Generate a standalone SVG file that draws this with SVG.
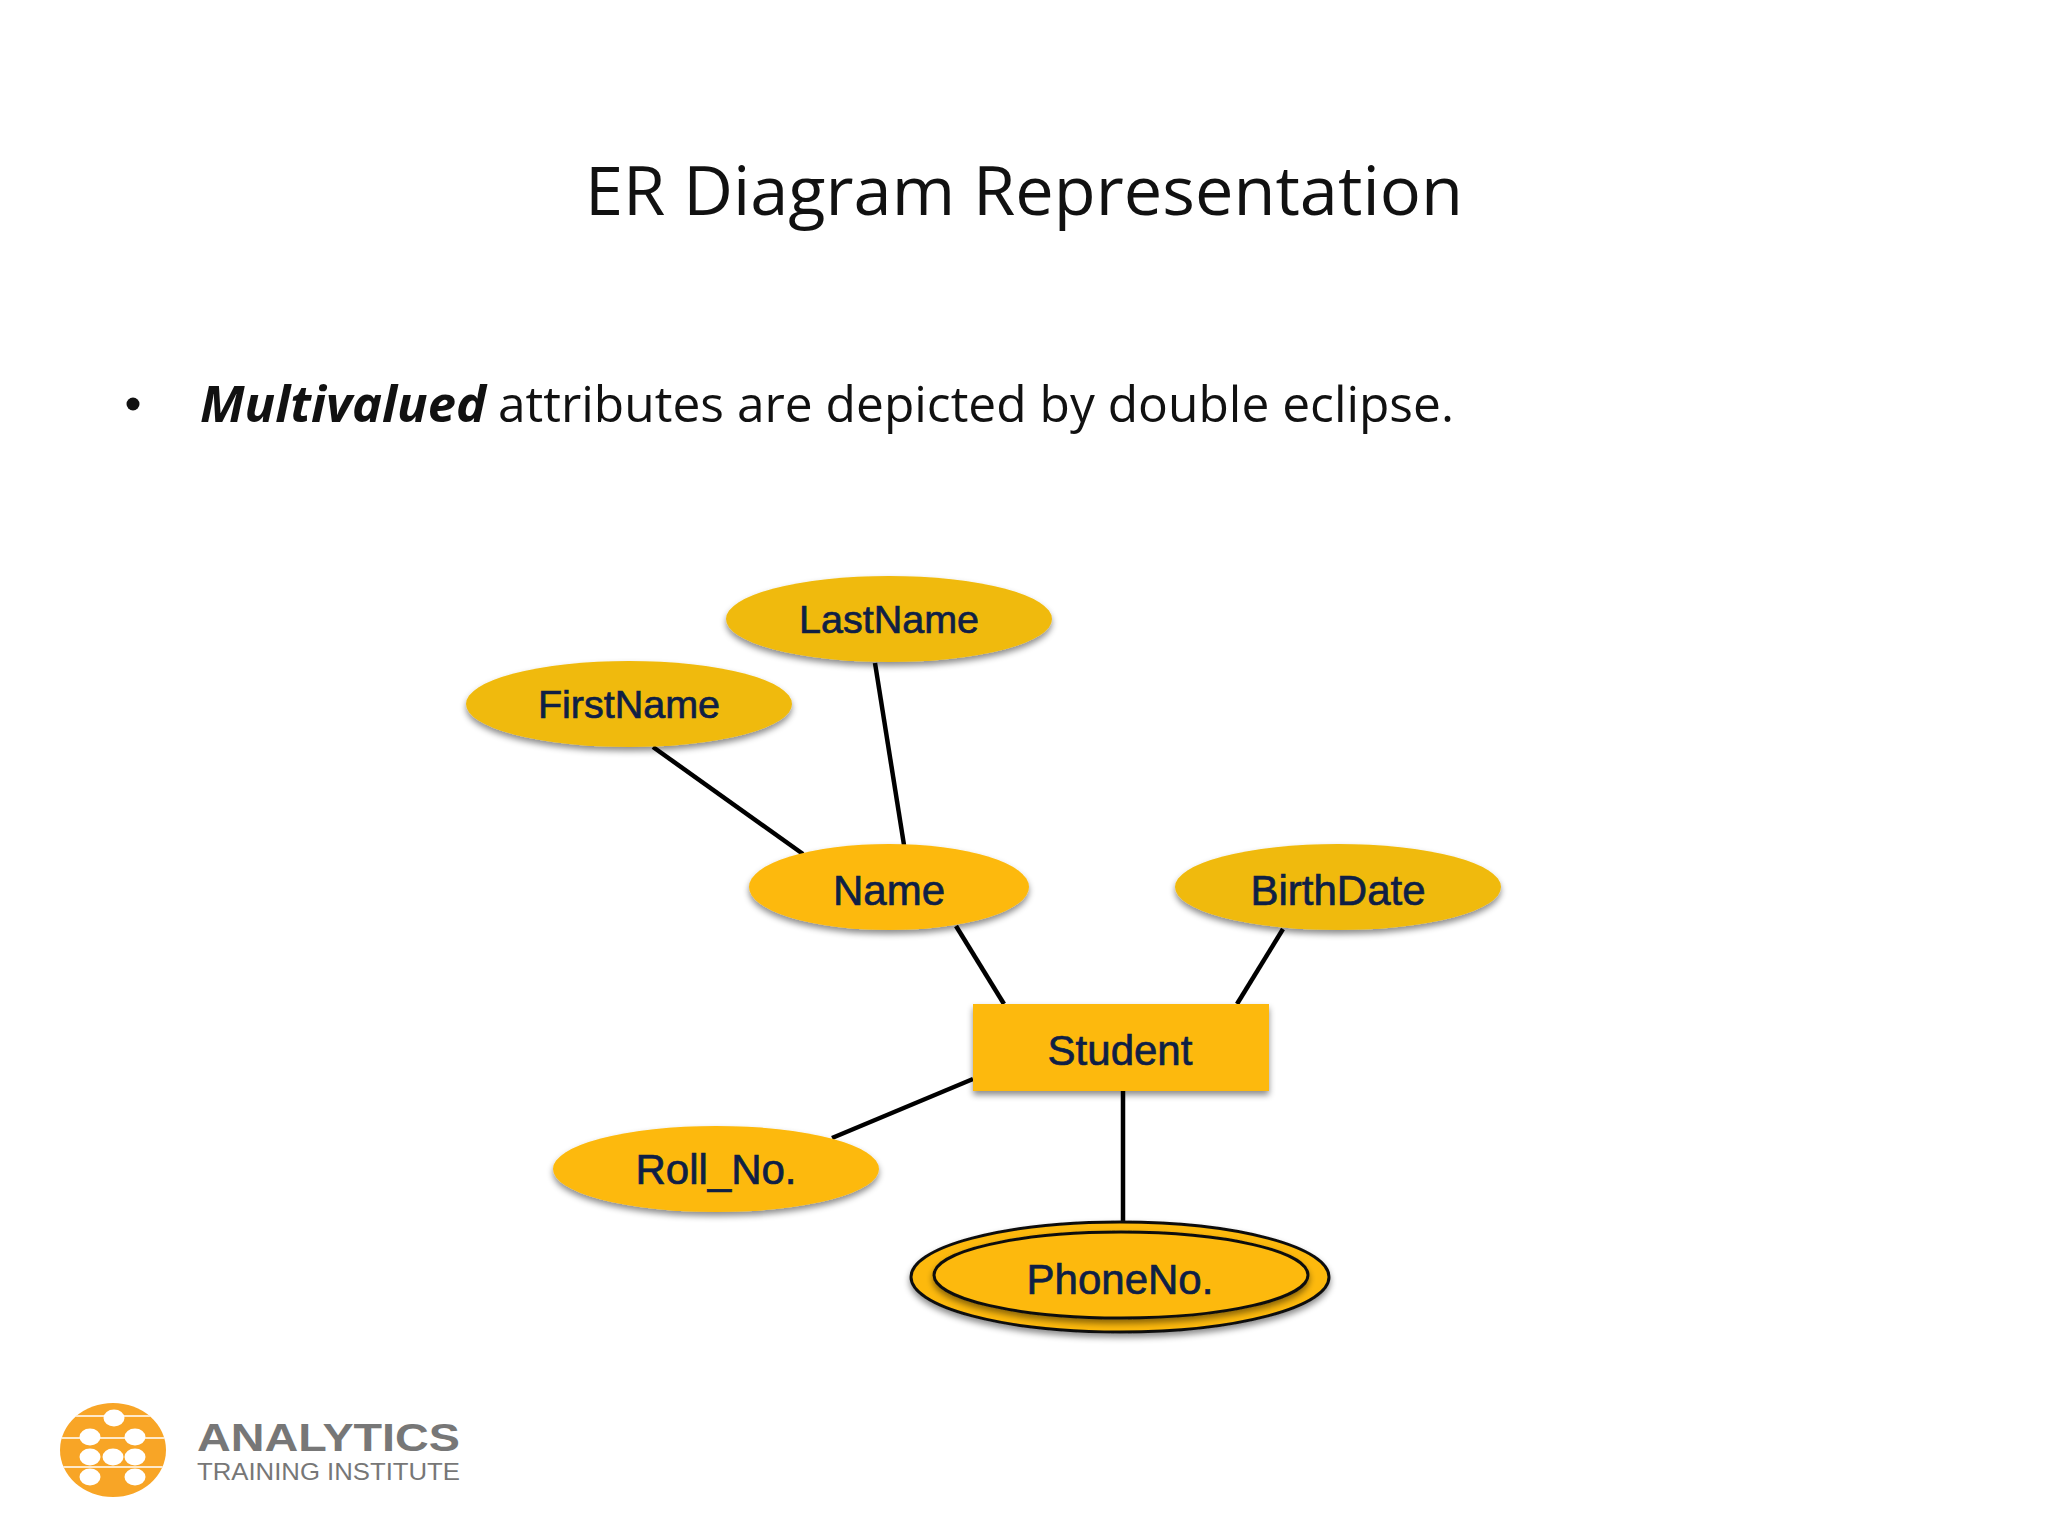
<svg xmlns="http://www.w3.org/2000/svg" width="2048" height="1536" viewBox="0 0 2048 1536">
<style>
.slide{font-family:"Open Sans","Noto Sans",sans-serif;fill:#111}
.lbl{font-family:"Liberation Sans",Arial,sans-serif;font-size:42px;fill:#0f1f45;stroke:#0f1f45;stroke-width:.7;text-anchor:middle}
.a{fill:#fdb90b;filter:url(#sh)}
.b{fill:#f0ba0c;filter:url(#sh)}
.c{stroke:#000;stroke-width:4.5;fill:none}
.hole{fill:#fff}
.st{stroke:#fff;fill:none}
</style>
<defs>
<filter id="sh" x="-10%" y="-20%" width="120%" height="150%"><feDropShadow dx="0" dy="4" stdDeviation="3" flood-color="#000" flood-opacity=".45"/></filter>
<clipPath id="disc"><ellipse cx="113" cy="1450" rx="53" ry="47"/></clipPath>
</defs>
<rect width="2048" height="1536" fill="#fff"/>
<text class="slide" x="585" y="215" font-size="68" textLength="878" lengthAdjust="spacingAndGlyphs">ER Diagram Representation</text>
<g id="bullet">
<circle cx="133" cy="404" r="6.5" fill="#111"/>
<text class="slide" x="200" y="422" font-size="50" font-weight="700" font-style="italic" textLength="286" lengthAdjust="spacingAndGlyphs">Multivalued</text>
<text class="slide" x="498" y="422" font-size="50" textLength="956" lengthAdjust="spacingAndGlyphs">attributes are depicted by double eclipse.</text>
</g>
<g id="connectors">
<line class="c" x1="653" y1="747" x2="803" y2="854"/>
<line class="c" x1="875" y1="663" x2="904" y2="845"/>
<line class="c" x1="956" y1="926" x2="1004" y2="1004"/>
<line class="c" x1="1283" y1="929" x2="1237" y2="1004"/>
<line class="c" x1="973" y1="1079" x2="832" y2="1138"/>
<line class="c" x1="1123" y1="1091" x2="1123" y2="1222"/>
</g>
<g id="lastname"><ellipse class="b" cx="889" cy="619" rx="163" ry="43"/><text class="lbl" x="889" y="633" style="font-size:39.5px">LastName</text></g>
<g id="firstname"><ellipse class="b" cx="629" cy="704" rx="163" ry="43"/><text class="lbl" x="629" y="718" style="font-size:39.5px">FirstName</text></g>
<g id="name"><ellipse class="a" cx="889" cy="887" rx="140" ry="43"/><text class="lbl" x="889" y="905">Name</text></g>
<g id="birthdate"><ellipse class="b" cx="1338" cy="887" rx="163" ry="43"/><text class="lbl" x="1338" y="905">BirthDate</text></g>
<g id="student"><rect class="a" x="973" y="1004" width="296" height="87"/><text class="lbl" x="1120" y="1065">Student</text></g>
<g id="rollno"><ellipse class="a" cx="716" cy="1169" rx="163" ry="43"/><text class="lbl" x="716" y="1184">Roll_No.</text></g>
<g id="phoneno">
<ellipse cx="1120" cy="1277" rx="209" ry="55" fill="#fdb90b" stroke="#111" stroke-width="3" filter="url(#sh)"/>
<ellipse cx="1121" cy="1275" rx="187" ry="43" fill="#fdb90b" stroke="#111" stroke-width="3" filter="url(#sh)"/>
<text class="lbl" x="1120" y="1294">PhoneNo.</text>
</g>
<g id="logo">
<ellipse cx="113" cy="1450" rx="53" ry="47" fill="#f8a526"/>
<g clip-path="url(#disc)">
<path class="st" stroke-width="1.5" d="M60 1416H166M60 1438H166M60 1467H166"/>
<g class="hole">
<ellipse cx="114" cy="1418" rx="10.5" ry="8.5"/>
<ellipse cx="90" cy="1437" rx="10.5" ry="8.5"/>
<ellipse cx="135" cy="1437" rx="10.5" ry="8.5"/>
<ellipse cx="90" cy="1457" rx="10.5" ry="8.5"/>
<ellipse cx="113" cy="1457" rx="10.5" ry="8.5"/>
<ellipse cx="135" cy="1457" rx="10.5" ry="8.5"/>
<ellipse cx="90" cy="1477" rx="10.5" ry="8.5"/>
<ellipse cx="135" cy="1477" rx="10.5" ry="8.5"/>
</g>
</g>
<text x="197" y="1451" font-family="'Liberation Sans',sans-serif" font-size="38" font-weight="700" fill="#777" textLength="263" lengthAdjust="spacingAndGlyphs">ANALYTICS</text>
<text x="197" y="1480" font-family="'Liberation Sans',sans-serif" font-size="24" fill="#777" textLength="263" lengthAdjust="spacingAndGlyphs">TRAINING INSTITUTE</text>
</g>
</svg>
